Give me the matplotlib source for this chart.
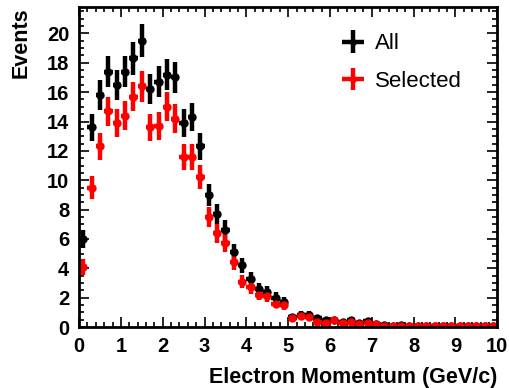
import matplotlib
matplotlib.use('Agg')
import matplotlib.pyplot as plt
from matplotlib.ticker import MultipleLocator

plt.rcParams['font.family'] = ['Liberation Sans', 'DejaVu Sans']

# bin centres (GeV/c), 0.2 wide bins
momentum = [0.1, 0.3, 0.5, 0.7, 0.9, 1.1, 1.3, 1.5, 1.7, 1.9,
            2.1, 2.3, 2.5, 2.7, 2.9, 3.1, 3.3, 3.5, 3.7, 3.9,
            4.1, 4.3, 4.5, 4.7, 4.9, 5.1, 5.3, 5.5, 5.7, 5.9,
            6.1, 6.3, 6.5, 6.7, 6.9, 7.1, 7.3, 7.5, 7.7, 7.9,
            8.1, 8.3, 8.5, 8.7, 8.9, 9.1, 9.3, 9.5, 9.7, 9.9]

# all events
all_ev = [6.0, 13.6, 15.8, 17.4, 16.5, 17.4, 18.3, 19.5, 16.2, 16.7,
          17.2, 17.0, 13.9, 14.3, 12.3, 9.0, 7.7, 6.6, 5.1, 4.2,
          3.3, 2.6, 2.4, 2.0, 1.7, 0.7, 0.85, 0.85, 0.6, 0.45,
          0.5, 0.35, 0.45, 0.3, 0.4, 0.2, 0.15, 0.05, 0.12, 0.1,
          0.08, 0.1, 0.08, 0.06, 0.08, 0.06, 0.05, 0.06, 0.05, 0.06]
all_err = [0.63, 0.94, 1.02, 1.07, 1.04, 1.07, 1.10, 1.13, 1.03, 1.05,
           1.06, 1.06, 0.95, 0.97, 0.90, 0.77, 0.71, 0.66, 0.58, 0.52,
           0.47, 0.41, 0.40, 0.36, 0.33, 0.21, 0.24, 0.24, 0.20, 0.17,
           0.18, 0.15, 0.17, 0.14, 0.16, 0.11, 0.10, 0.06, 0.09, 0.08,
           0.07, 0.08, 0.07, 0.06, 0.07, 0.06, 0.06, 0.06, 0.06, 0.06]

# selected events
sel_ev = [4.1, 9.5, 12.3, 14.7, 13.9, 14.4, 15.7, 16.4, 13.6, 13.7,
          15.0, 14.2, 11.6, 11.6, 10.2, 7.5, 6.4, 5.7, 4.4, 3.1,
          2.7, 2.2, 2.1, 1.6, 1.5, 0.6, 0.75, 0.7, 0.35, 0.3,
          0.45, 0.3, 0.35, 0.2, 0.3, 0.18, 0.1, 0.05, 0.1, 0.08,
          0.06, 0.08, 0.06, 0.05, 0.06, 0.05, 0.04, 0.05, 0.04, 0.05]
sel_err = [0.52, 0.79, 0.90, 0.98, 0.95, 0.97, 1.01, 1.04, 0.94, 0.95,
           0.99, 0.96, 0.87, 0.87, 0.82, 0.70, 0.65, 0.61, 0.54, 0.45,
           0.42, 0.38, 0.37, 0.32, 0.31, 0.20, 0.22, 0.21, 0.15, 0.14,
           0.17, 0.14, 0.15, 0.11, 0.14, 0.11, 0.08, 0.06, 0.08, 0.07,
           0.06, 0.07, 0.06, 0.06, 0.06, 0.06, 0.05, 0.06, 0.05, 0.06]

fig = plt.figure(figsize=(5.1, 3.88), dpi=100)
ax = fig.add_axes([0.155, 0.157, 0.82, 0.825])

ax.errorbar(momentum, all_ev, yerr=all_err, xerr=0.1, fmt='o', color='black',
            markersize=5, elinewidth=3.2, capsize=0, label='All')
ax.errorbar(momentum, sel_ev, yerr=sel_err, xerr=0.1, fmt='o', color='red',
            markersize=5, elinewidth=3.2, capsize=0, label='Selected')

ax.set_xlim(0, 10)
ax.set_ylim(0, 21.8)
ax.xaxis.set_major_locator(MultipleLocator(1))
ax.xaxis.set_minor_locator(MultipleLocator(0.2))
ax.yaxis.set_major_locator(MultipleLocator(2))
ax.yaxis.set_minor_locator(MultipleLocator(0.5))
ax.tick_params(which='both', direction='in', top=True, right=True, width=1.2)
ax.tick_params(which='major', length=7, labelsize=14.5, pad=7)
ax.tick_params(which='minor', length=3.5)
for lbl in ax.get_xticklabels() + ax.get_yticklabels():
    lbl.set_fontweight('bold')
for sp in ax.spines.values():
    sp.set_linewidth(2)

ax.set_xlabel('Electron Momentum (GeV/c)', fontsize=15.5, fontweight='bold',
              loc='right', labelpad=8)
ax.set_ylabel('Events', fontsize=15.5, fontweight='bold', loc='top', labelpad=11)

ax.legend(loc='upper left', bbox_to_anchor=(0.58, 0.98), frameon=False, fontsize=16,
          handlelength=1.0, handletextpad=0.5, labelspacing=0.75, markerscale=0.8)

plt.savefig('out.png', dpi=100)
